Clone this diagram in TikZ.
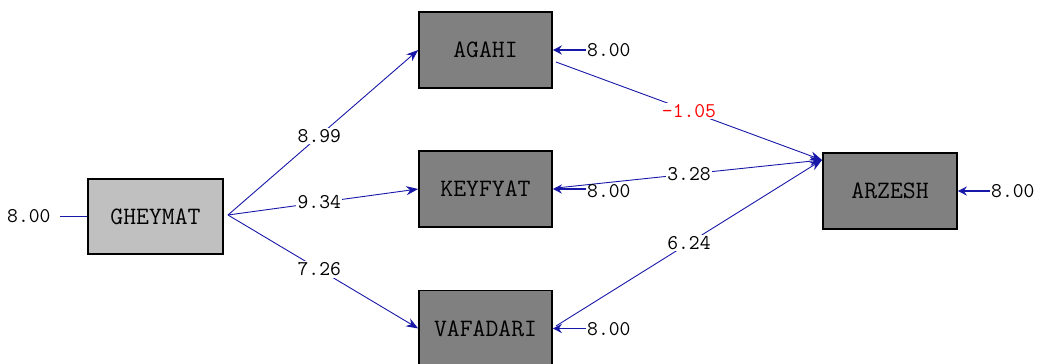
\documentclass[tikz,border=0pt]{standalone}
\usepackage{fontspec}
\usetikzlibrary{arrows.meta}
\definecolor{pathblue}{RGB}{24,24,168}
\definecolor{latentgray}{RGB}{128,128,128}
\definecolor{obsgray}{RGB}{192,192,192}
\definecolor{negred}{RGB}{255,0,0}

\begin{document}
\begin{tikzpicture}[x=1pt,y=-1pt,
  varbox/.style={draw=black, line width=1.6pt, fill=latentgray,
    minimum width=133pt, minimum height=76pt, inner sep=0pt,
    font=\ttfamily\fontsize{25}{25}\selectfont},
  exobox/.style={varbox, fill=obsgray, minimum width=135pt, minimum height=75pt},
  linkline/.style={draw=pathblue, line width=0.9pt},
  causal/.style={linkline, -{Stealth[length=12pt,width=9pt]}},
  errarrow/.style={draw=pathblue, line width=1.8pt, -{Stealth[length=9pt,width=9pt]}},
  coef/.style={font=\ttfamily\fontsize{21}{21}\selectfont, fill=white, inner sep=1.5pt},
  errtext/.style={font=\ttfamily\fontsize{21}{21}\selectfont, inner sep=1pt, anchor=west},
]
\useasboundingbox (0,0) rectangle (1039,364);

% observed variables
\node[exobox] (gh) at (155.5,216.5) {GHEYMAT};
\node[varbox] (ag) at (485.5,50) {AGAHI};
\node[varbox] (ke) at (485.5,189) {KEYFYAT};
\node[varbox] (va) at (485.5,328.5) {VAFADARI};
\node[varbox, minimum width=134pt] (ar) at (890,191) {ARZESH};

% start and end points of the structural paths
\coordinate (ghout) at (228,215);
\coordinate (agout) at (556,62);
\coordinate (keout) at (556,188);
\coordinate (vaout) at (556,326);
\coordinate (arin) at (822,160);

% GHEYMAT -> mediators
\draw[causal] (ghout) -- node[coef,pos=0.48] {8.99} (ag.west);
\draw[causal] (ghout) -- node[coef,pos=0.48] {9.34} (ke.west);
\draw[causal] (ghout) -- node[coef,pos=0.48] {7.26} (va.west);

% mediators -> ARZESH
\draw[causal] (agout) -- node[coef,pos=0.5,text=negred] {-1.05} (arin);
\draw[causal] (keout) -- node[coef,pos=0.5] {3.28} (arin);
\draw[causal] (vaout) -- node[coef,pos=0.5] {6.24} (arin);

% error terms
\node[errtext] (egh) at (6,216) {8.00};
\coordinate (ghin) at (60,216.5);
\draw[linkline] (ghin) -- (gh.west);

\node[errtext] (eag) at (586,50) {8.00};
\draw[errarrow] (ag.east -| eag.west) -- (ag.east);

\node[errtext] (eke) at (586,191) {8.00};
\draw[errarrow] (ke.east -| eke.west) -- (ke.east);

\node[errtext] (eva) at (586,329) {8.00};
\draw[errarrow] (va.east -| eva.west) -- (va.east);

\node[errtext] (ear) at (990,191) {8.00};
\draw[errarrow] (ar.east -| ear.west) -- (ar.east);
\end{tikzpicture}
\end{document}
